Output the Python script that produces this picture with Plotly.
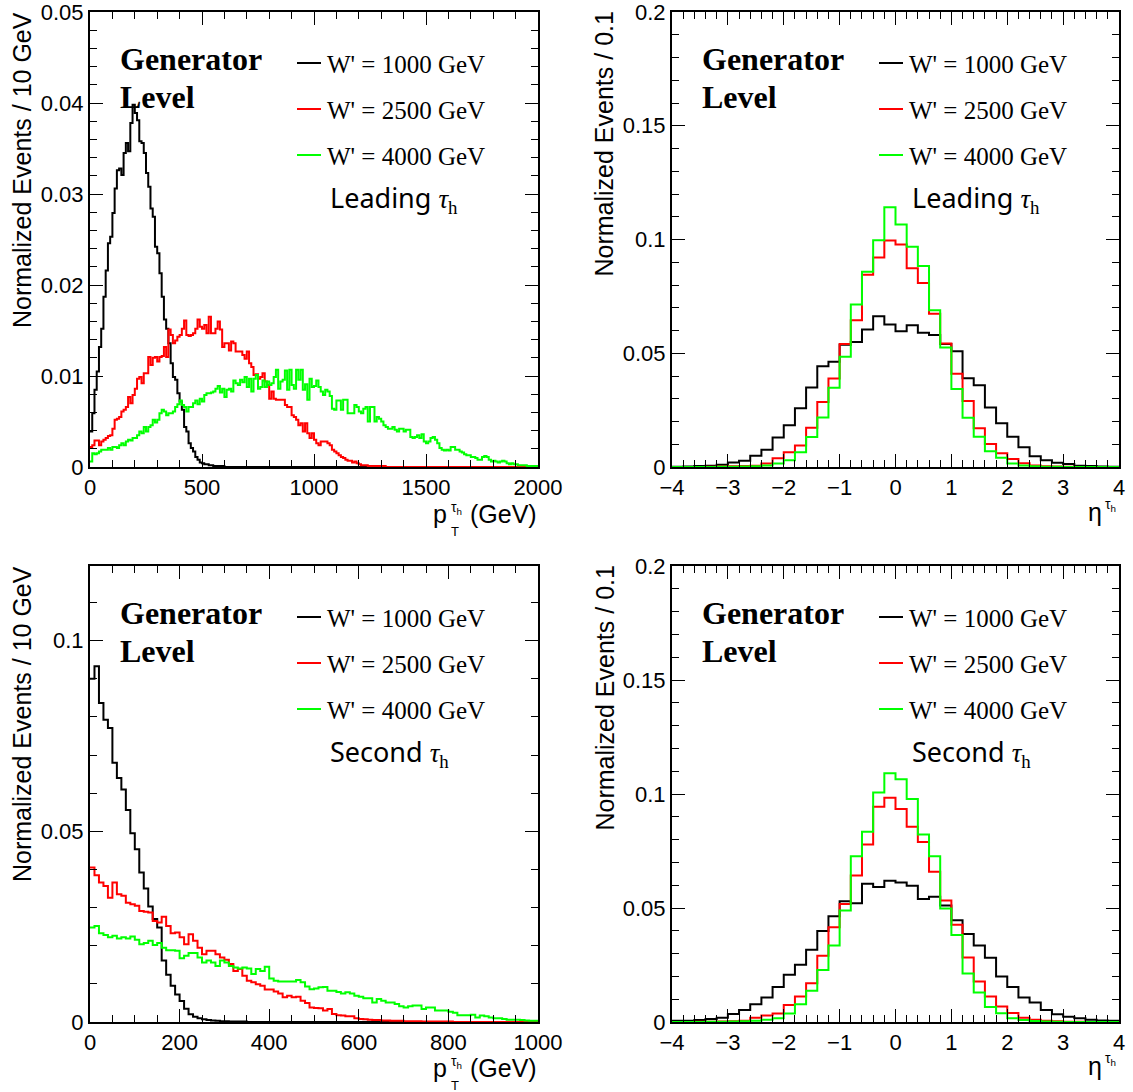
import plotly.graph_objects as go

# ---------------- data ----------------
lead_pt_black = [0.0039, 0.0059, 0.0085, 0.0105, 0.0132, 0.0152, 0.0187, 0.0216, 0.0246, 0.0253,
                 0.0279, 0.0306, 0.0326, 0.0328, 0.0321, 0.0345, 0.0356, 0.0347, 0.0378, 0.0398,
                 0.0389, 0.0381, 0.0358, 0.0356, 0.0345, 0.0323, 0.0308, 0.0284, 0.0275, 0.0242,
                 0.0235, 0.0213, 0.0187, 0.0162, 0.0152, 0.0136, 0.0114, 0.0099, 0.0096, 0.0081,
                 0.0072, 0.0063, 0.0044, 0.0039, 0.0026, 0.0021, 0.0017, 0.0011, 0.0008, 0.0005,
                 0.0004, 0.0003, 0.0003, 0.0002, 0.0002, 0.0001, 0.0001, 0.0001, 0.0001, 0.0001] + [0.0] * 140

lead_pt_red = [0.0022, 0.0024, 0.0029, 0.0029, 0.0024, 0.0028, 0.0030, 0.0032, 0.0034, 0.0035,
               0.0042, 0.0052, 0.0053, 0.0055, 0.0061, 0.0063, 0.0066, 0.0077, 0.0070, 0.0079,
               0.0086, 0.0097, 0.0099, 0.0092, 0.0103, 0.0103, 0.0121, 0.0112, 0.0120, 0.0121,
               0.0116, 0.0121, 0.0122, 0.0132, 0.0121, 0.0151, 0.0145, 0.0136, 0.0139, 0.0143,
               0.0145, 0.0152, 0.0161, 0.0145, 0.0144, 0.0145, 0.0147, 0.0152, 0.0162, 0.0154,
               0.0152, 0.0156, 0.0147, 0.0165, 0.0147, 0.0147, 0.0152, 0.0160, 0.0151, 0.0132,
               0.0136, 0.0136, 0.0128, 0.0138, 0.0136, 0.0127, 0.0127, 0.0127, 0.0123, 0.0119,
               0.0127, 0.0114, 0.0110, 0.0101, 0.0102, 0.0097, 0.0099, 0.0103, 0.0094, 0.0090,
               0.0075, 0.0083, 0.0075, 0.0074, 0.0074, 0.0074, 0.0074, 0.0068, 0.0066, 0.0066,
               0.0057, 0.0055, 0.0052, 0.0046, 0.0048, 0.0039, 0.0048, 0.0037, 0.0032, 0.0037,
               0.0030, 0.0026, 0.0024, 0.0028, 0.0028, 0.0028, 0.0026, 0.0024, 0.0019, 0.0017,
               0.0015, 0.0013, 0.0011, 0.0010, 0.0008, 0.0007, 0.0007, 0.0005, 0.0006, 0.0004,
               0.0003, 0.0002, 0.0002, 0.0002, 0.0001, 0.0001, 0.0001, 0.0001, 0.0001, 0.0001,
               0.0001, 0.0001] + [0.0] * 68

lead_pt_green = [0.0006, 0.0015, 0.0014, 0.0015, 0.0017, 0.0019, 0.0019, 0.0019, 0.0021, 0.0019,
                 0.0022, 0.0022, 0.0021, 0.0024, 0.0026, 0.0024, 0.0028, 0.0030, 0.0029, 0.0032,
                 0.0032, 0.0035, 0.0039, 0.0037, 0.0044, 0.0039, 0.0044, 0.0046, 0.0052, 0.0049,
                 0.0052, 0.0059, 0.0063, 0.0061, 0.0057, 0.0059, 0.0059, 0.0061, 0.0066, 0.0069,
                 0.0073, 0.0068, 0.0066, 0.0061, 0.0066, 0.0066, 0.0070, 0.0073, 0.0069, 0.0075,
                 0.0072, 0.0079, 0.0081, 0.0081, 0.0082, 0.0083, 0.0086, 0.0089, 0.0082, 0.0086,
                 0.0077, 0.0085, 0.0086, 0.0083, 0.0095, 0.0092, 0.0090, 0.0096, 0.0093, 0.0099,
                 0.0088, 0.0097, 0.0083, 0.0097, 0.0101, 0.0086, 0.0088, 0.0095, 0.0088, 0.0094,
                 0.0090, 0.0092, 0.0099, 0.0107, 0.0086, 0.0094, 0.0096, 0.0106, 0.0085, 0.0107,
                 0.0090, 0.0086, 0.0107, 0.0096, 0.0107, 0.0085, 0.0091, 0.0074, 0.0097, 0.0088,
                 0.0089, 0.0095, 0.0088, 0.0083, 0.0079, 0.0085, 0.0083, 0.0078, 0.0064, 0.0063,
                 0.0073, 0.0073, 0.0063, 0.0074, 0.0074, 0.0059, 0.0059, 0.0059, 0.0068, 0.0066,
                 0.0061, 0.0059, 0.0064, 0.0066, 0.0050, 0.0066, 0.0066, 0.0050, 0.0055, 0.0053,
                 0.0050, 0.0046, 0.0044, 0.0042, 0.0042, 0.0044, 0.0041, 0.0039, 0.0042, 0.0042,
                 0.0039, 0.0041, 0.0041, 0.0033, 0.0032, 0.0033, 0.0035, 0.0032, 0.0036, 0.0028,
                 0.0026, 0.0028, 0.0032, 0.0033, 0.0030, 0.0026, 0.0021, 0.0019, 0.0018, 0.0019,
                 0.0018, 0.0022, 0.0022, 0.0019, 0.0019, 0.0017, 0.0016, 0.0014, 0.0013, 0.0013,
                 0.0011, 0.0011, 0.0010, 0.0008, 0.0008, 0.0011, 0.0012, 0.0011, 0.0008, 0.0006,
                 0.0007, 0.0006, 0.0005, 0.0006, 0.0007, 0.0006, 0.0004, 0.0003, 0.0004, 0.0003,
                 0.0003, 0.0002, 0.0002, 0.0002, 0.0002, 0.0001, 0.0001, 0.0001, 0.0001, 0.0001]

sub_pt_black = [0.0900, 0.0933, 0.0837, 0.0793, 0.0771, 0.0680, 0.0640, 0.0610, 0.0556, 0.0495,
                0.0453, 0.0392, 0.0350, 0.0303, 0.0270, 0.0248, 0.0161, 0.0124, 0.0095, 0.0072,
                0.0055, 0.0035, 0.0020, 0.0014, 0.0010, 0.0007, 0.0005, 0.0004, 0.0003, 0.0002,
                0.0002, 0.0001, 0.0001, 0.0001, 0.0001] + [0.0] * 65

sub_pt_red = [0.0405, 0.0385, 0.0366, 0.0357, 0.0326, 0.0366, 0.0335, 0.0331, 0.0313, 0.0309,
              0.0305, 0.0291, 0.0289, 0.0287, 0.0265, 0.0261, 0.0276, 0.0252, 0.0233, 0.0235,
              0.0222, 0.0204, 0.0230, 0.0213, 0.0195, 0.0178, 0.0187, 0.0187, 0.0178, 0.0169,
              0.0163, 0.0152, 0.0134, 0.0139, 0.0121, 0.0108, 0.0104, 0.0099, 0.0095, 0.0085,
              0.0085, 0.0080, 0.0075, 0.0065, 0.0069, 0.0065, 0.0066, 0.0056, 0.0050, 0.0038,
              0.0037, 0.0036, 0.0030, 0.0034, 0.0021, 0.0018, 0.0017, 0.0015, 0.0015, 0.0010,
              0.0008, 0.0007, 0.0006, 0.0005, 0.0005, 0.0004, 0.0004, 0.0003, 0.0003, 0.0003,
              0.0002, 0.0002, 0.0002, 0.0002, 0.0001, 0.0001, 0.0001, 0.0001, 0.0001, 0.0001,
              0.0001] + [0.0] * 19

sub_pt_green = [0.0248, 0.0252, 0.0233, 0.0228, 0.0222, 0.0226, 0.0219, 0.0222, 0.0219, 0.0224,
                0.0216, 0.0204, 0.0207, 0.0213, 0.0202, 0.0207, 0.0195, 0.0188, 0.0188, 0.0187,
                0.0167, 0.0174, 0.0181, 0.0181, 0.0169, 0.0156, 0.0161, 0.0156, 0.0147, 0.0161,
                0.0156, 0.0147, 0.0143, 0.0140, 0.0143, 0.0140, 0.0126, 0.0139, 0.0134, 0.0145,
                0.0114, 0.0108, 0.0106, 0.0106, 0.0106, 0.0106, 0.0110, 0.0104, 0.0093, 0.0086,
                0.0088, 0.0091, 0.0092, 0.0082, 0.0082, 0.0079, 0.0075, 0.0078, 0.0075, 0.0069,
                0.0066, 0.0062, 0.0062, 0.0051, 0.0060, 0.0056, 0.0051, 0.0051, 0.0047, 0.0041,
                0.0038, 0.0041, 0.0043, 0.0043, 0.0034, 0.0038, 0.0038, 0.0030, 0.0030, 0.0030,
                0.0027, 0.0024, 0.0018, 0.0018, 0.0018, 0.0019, 0.0012, 0.0017, 0.0015, 0.0012,
                0.0010, 0.0010, 0.0008, 0.0006, 0.0006, 0.0006, 0.0005, 0.0004, 0.0003, 0.0003]

lead_eta_black = [0.0001, 0.0002, 0.0004, 0.0006, 0.0010, 0.0020, 0.0028, 0.0050, 0.0076, 0.0130,
                  0.0183, 0.0258, 0.0349, 0.0443, 0.0463, 0.0537, 0.0550, 0.0604, 0.0663, 0.0626,
                  0.0597, 0.0623, 0.0590, 0.0580, 0.0541, 0.0509, 0.0390, 0.0359, 0.0262, 0.0192,
                  0.0133, 0.0087, 0.0047, 0.0030, 0.0019, 0.0013, 0.0006, 0.0004, 0.0002, 0.0001]
lead_eta_red = [0.0, 0.0, 0.0, 0.0001, 0.0002, 0.0003, 0.0004, 0.0006, 0.0015, 0.0038,
                0.0065, 0.0095, 0.0172, 0.0286, 0.0389, 0.0541, 0.0645, 0.0845, 0.0921, 0.0996,
                0.0978, 0.0874, 0.0809, 0.0674, 0.0543, 0.0410, 0.0290, 0.0170, 0.0101, 0.0060,
                0.0035, 0.0016, 0.0007, 0.0003, 0.0002, 0.0001, 0.0, 0.0, 0.0, 0.0]
lead_eta_green = [0.0, 0.0, 0.0, 0.0, 0.0001, 0.0001, 0.0002, 0.0003, 0.0007, 0.0015,
                  0.0030, 0.0065, 0.0132, 0.0218, 0.0348, 0.0485, 0.0714, 0.0858, 0.0997, 0.1142,
                  0.1066, 0.0968, 0.0883, 0.0689, 0.0525, 0.0343, 0.0217, 0.0133, 0.0069, 0.0041,
                  0.0015, 0.0007, 0.0003, 0.0001, 0.0001, 0.0, 0.0, 0.0, 0.0, 0.0]

sub_eta_black = [0.0006, 0.0006, 0.0009, 0.0013, 0.0019, 0.0035, 0.0053, 0.0078, 0.0107, 0.0154,
                 0.0207, 0.0251, 0.0317, 0.0399, 0.0464, 0.0530, 0.0521, 0.0606, 0.0592, 0.0620,
                 0.0612, 0.0598, 0.0539, 0.0549, 0.0511, 0.0446, 0.0386, 0.0335, 0.0282, 0.0200,
                 0.0154, 0.0107, 0.0085, 0.0053, 0.0034, 0.0023, 0.0016, 0.0010, 0.0007, 0.0005]
sub_eta_red = [0.0, 0.0, 0.0001, 0.0001, 0.0002, 0.0003, 0.0006, 0.0019, 0.0029, 0.0037,
               0.0075, 0.0112, 0.0170, 0.0291, 0.0416, 0.0518, 0.0643, 0.0778, 0.0944, 0.0984,
               0.0934, 0.0856, 0.0789, 0.0659, 0.0533, 0.0427, 0.0283, 0.0178, 0.0112, 0.0068,
               0.0040, 0.0019, 0.0010, 0.0005, 0.0003, 0.0001, 0.0001, 0.0, 0.0, 0.0]
sub_eta_green = [0.0, 0.0, 0.0, 0.0001, 0.0001, 0.0002, 0.0003, 0.0006, 0.0010, 0.0016,
                 0.0037, 0.0078, 0.0137, 0.0228, 0.0335, 0.0489, 0.0727, 0.0834, 0.1007, 0.1091,
                 0.1065, 0.0978, 0.0822, 0.0727, 0.0498, 0.0382, 0.0213, 0.0129, 0.0066, 0.0038,
                 0.0016, 0.0009, 0.0004, 0.0002, 0.0001, 0.0, 0.0, 0.0, 0.0, 0.0]

legend_labels = ["W' = 1000 GeV", "W' = 2500 GeV", "W' = 4000 GeV"]
colors = ["#000000", "#ff0000", "#00ff00"]

# ---------------- figure ----------------
W, H = 1133, 1092


def fx(px):
    return px / W


def fy(py):
    return 1 - py / H


def edges(lo, hi, n):
    step = (hi - lo) / n
    return [lo + i * step for i in range(n + 1)]


def step_trace(lo, hi, vals, color, xa, ya):
    e = edges(lo, hi, len(vals))
    return go.Scatter(x=e, y=list(vals) + [vals[-1]], mode="lines", line_shape="hv",
                      line=dict(color=color, width=2), xaxis=xa, yaxis=ya,
                      hoverinfo="skip", showlegend=False, cliponaxis=True)


fig = go.Figure()
panels = [
    ("x", "y", 0, 2000, [lead_pt_black, lead_pt_red, lead_pt_green]),
    ("x2", "y2", -4, 4, [lead_eta_black, lead_eta_red, lead_eta_green]),
    ("x3", "y3", 0, 1000, [sub_pt_black, sub_pt_red, sub_pt_green]),
    ("x4", "y4", -4, 4, [sub_eta_black, sub_eta_red, sub_eta_green]),
]
for xa, ya, lo, hi, series in panels:
    for vals, c in zip(series, colors):
        fig.add_trace(step_trace(lo, hi, vals, c, xa, ya))

tickfont = dict(family="Liberation Sans, Arial", size=22, color="black")


def axis(domain, rng, dtick, mdtick, anchor, is_x):
    return dict(domain=domain, range=rng, dtick=dtick, tick0=0, anchor=anchor,
                showline=True, linecolor="black", linewidth=2, mirror="allticks",
                ticks="inside", ticklen=13, tickwidth=1, tickcolor="black",
                minor=dict(dtick=mdtick, tick0=0, ticks="inside", ticklen=7,
                           tickwidth=1, tickcolor="black"),
                showgrid=False, zeroline=False, tickfont=tickfont, automargin=False,
                ticklabeloverflow="allow", ticklabelstandoff=0, fixedrange=True)


XL = [fx(90), fx(538)]
XR = [fx(672), fx(1119)]
YT = [fy(467), fy(12)]
YB = [fy(1022), fy(566)]

fig.update_layout(
    width=W, height=H, margin=dict(l=0, r=0, t=0, b=0, pad=0, autoexpand=False),
    paper_bgcolor="white", plot_bgcolor="white", showlegend=False,
    xaxis=axis(XL, [0, 2000], 500, 100, "y", True),
    yaxis=axis(YT, [0, 0.05], 0.01, 0.002, "x", False),
    xaxis2=axis(XR, [-4, 4], 1, 0.2, "y2", True),
    yaxis2=axis(YT, [0, 0.2], 0.05, 0.01, "x2", False),
    xaxis3=axis(XL, [0, 1000], 200, 50, "y3", True),
    yaxis3=axis(YB, [0, 0.1196], 0.05, 0.01, "x3", False),
    xaxis4=axis(XR, [-4, 4], 1, 0.2, "y4", True),
    yaxis4=axis(YB, [0, 0.2], 0.05, 0.01, "x4", False),
)

annotations = []
shapes = []

SERIF = "Liberation Serif, Times New Roman, serif"
SANS = "Liberation Sans, Arial, sans-serif"


def text_at(text, x_px, base_px, size, family, xanchor="left", color="black"):
    annotations.append(dict(text=text, x=fx(x_px), y=fy(base_px - 0.345 * size),
                            xref="paper", yref="paper", xanchor=xanchor, yanchor="middle",
                            showarrow=False, font=dict(family=family, size=size, color=color),
                            borderpad=0))


panel_offsets = [(0, 0, "Leading", "10 GeV", True), (582, 0, "Leading", "0.1", False),
                 (0, 554, "Second", "10 GeV", True), (582, 554, "Second", "0.1", False)]

for dx, dy, label, unit, is_pt in panel_offsets:
    text_at("<b>Generator</b>", 119 + dx, 70 + dy, 32, SERIF)
    text_at("<b>Level</b>", 119 + dx, 108 + dy, 32, SERIF)
    for i, (lab, c) in enumerate(zip(legend_labels, colors)):
        ly = 63 + 46 * i + dy
        shapes.append(dict(type="line", xref="paper", yref="paper",
                           x0=fx(297 + dx), x1=fx(321 + dx), y0=fy(ly), y1=fy(ly),
                           line=dict(color=c, width=2)))
        text_at(lab, 326 + dx, 73 + 46 * i + dy, 25, SERIF)
    text_at(label + ' <span style="font-family:Liberation Serif"><i>τ</i><sub>h</sub></span>',
            329 + dx, 208 + dy, 27, "Noto Sans")
    # y title
    annotations.append(dict(text="Normalized Events / " + unit, textangle=-90,
                            x=fx(22 + dx), y=fy(11 + dy), xref="paper", yref="paper",
                            xanchor="center", yanchor="top", showarrow=False, borderpad=0,
                            font=dict(family=SANS, size=25, color="black")))
    # x title
    if is_pt:
        text_at("p", 448 + dx, 523 + dy, 25, SANS, xanchor="right")
        text_at("T", 450 + dx, 536 + dy, 13, SANS)
        text_at("τ<sub>h</sub>", 450 + dx, 513 + dy, 14, SANS)
        text_at("(GeV)", 538 + dx, 523 + dy, 25, SANS, xanchor="right")
    else:
        text_at("η", 1103, 521 + dy, 25, SANS, xanchor="right")
        text_at("τ<sub>h</sub>", 1104, 510 + dy, 14, SANS)

fig.update_layout(annotations=annotations, shapes=shapes)

fig.write_html("out.html", config={"displayModeBar": False, "responsive": False},
               post_script="document.body.style.margin='0';")
